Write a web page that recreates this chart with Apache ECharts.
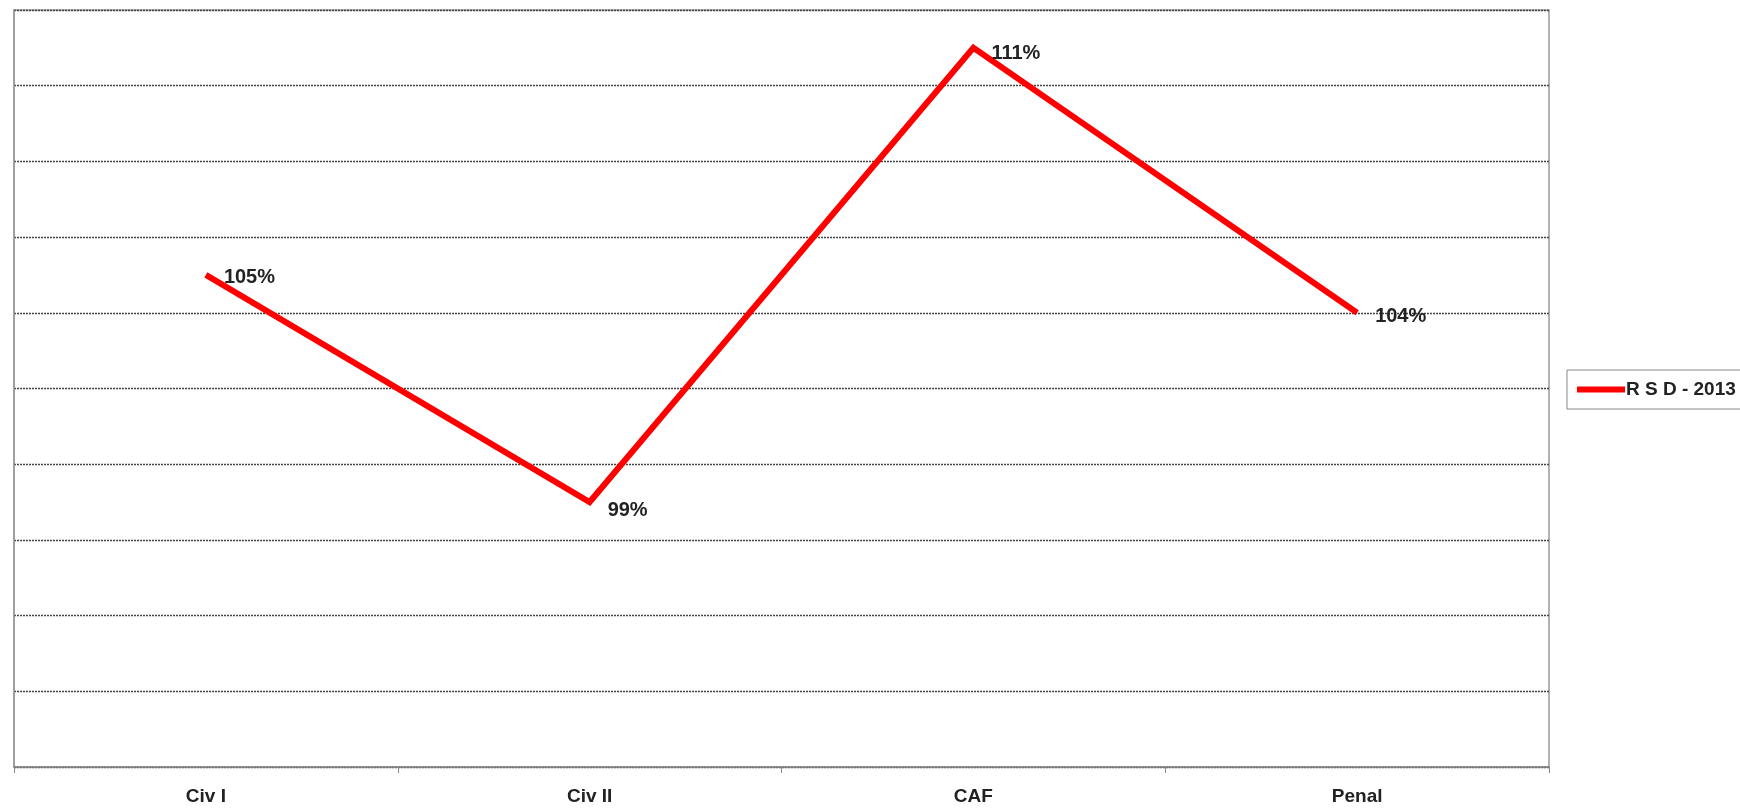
<!DOCTYPE html>
<html><head><meta charset="utf-8">
<script src="https://cdn.jsdelivr.net/npm/echarts@6/dist/echarts.min.js"></script>
<style>html,body{margin:0;padding:0;background:#fff}#c{width:1740px;height:810px}</style>
</head><body><div id="c"></div>
<script>
const categories = ["Civ I", "Civ II", "CAF", "Penal"];
const seriesName = "R S D - 2013";
const values = [105, 99, 111, 104];
const yMin = 92, yMax = 112, yInterval = 2;

const labelDy = [3, 8, 6, 4];

const chart = echarts.init(document.getElementById('c'), null, {renderer: 'canvas'});
chart.setOption({
  animation: false,
  backgroundColor: '#fff',
  textStyle: {fontFamily: 'Liberation Sans, Arial, sans-serif'},
  grid: {left: 14, right: 191, top: 10, bottom: 43, show: true, borderColor: '#999', borderWidth: 1.5, backgroundColor: 'transparent'},
  legend: {
    left: 1567, top: 370, orient: 'vertical',
    padding: [10, 5, 10, 10],
    borderColor: '#888', borderWidth: 1, borderRadius: 0,
    itemWidth: 48, itemHeight: 14, itemGap: 4,
    textStyle: {fontSize: 19, fontWeight: 'bold', color: '#222', fontFamily: 'Liberation Sans, Arial, sans-serif', padding: [0, 0, 0, -4]},
    data: [{name: seriesName, icon: 'path://M0,4L48,4L48,10L0,10Z', itemStyle: {color: '#ff0000'}}]
  },
  xAxis: {
    type: 'category', data: categories, boundaryGap: true,
    axisLine: {lineStyle: {color: '#888', width: 1.5}},
    axisTick: {show: true, length: 6, alignWithLabel: false, lineStyle: {color: '#888'}},
    axisLabel: {fontSize: 19, fontWeight: 'bold', color: '#222', margin: 20}
  },
  yAxis: {
    type: 'value', min: yMin, max: yMax, interval: yInterval,
    axisLine: {show: true, lineStyle: {color: '#999', width: 1.5}},
    axisTick: {show: false}, axisLabel: {show: false},
    splitLine: {show: true, lineStyle: {color: '#444', width: 1.3, type: [2, 1]}}
  },
  series: [{
    name: seriesName, type: 'line', data: values,
    symbol: 'circle', symbolSize: 0, showSymbol: true,
    lineStyle: {color: '#ff0000', width: 6, join: 'miter'},
    itemStyle: {color: '#ff0000'},
    label: {
      show: true, position: 'right', distance: 18,
      formatter: p => p.value + '%',
      fontSize: 20, fontWeight: 'bold', color: '#222'
    },
    labelLayout: p => ({hideOverlap: false, dy: labelDy[p.dataIndex]})
  }]
});
</script></body></html>
